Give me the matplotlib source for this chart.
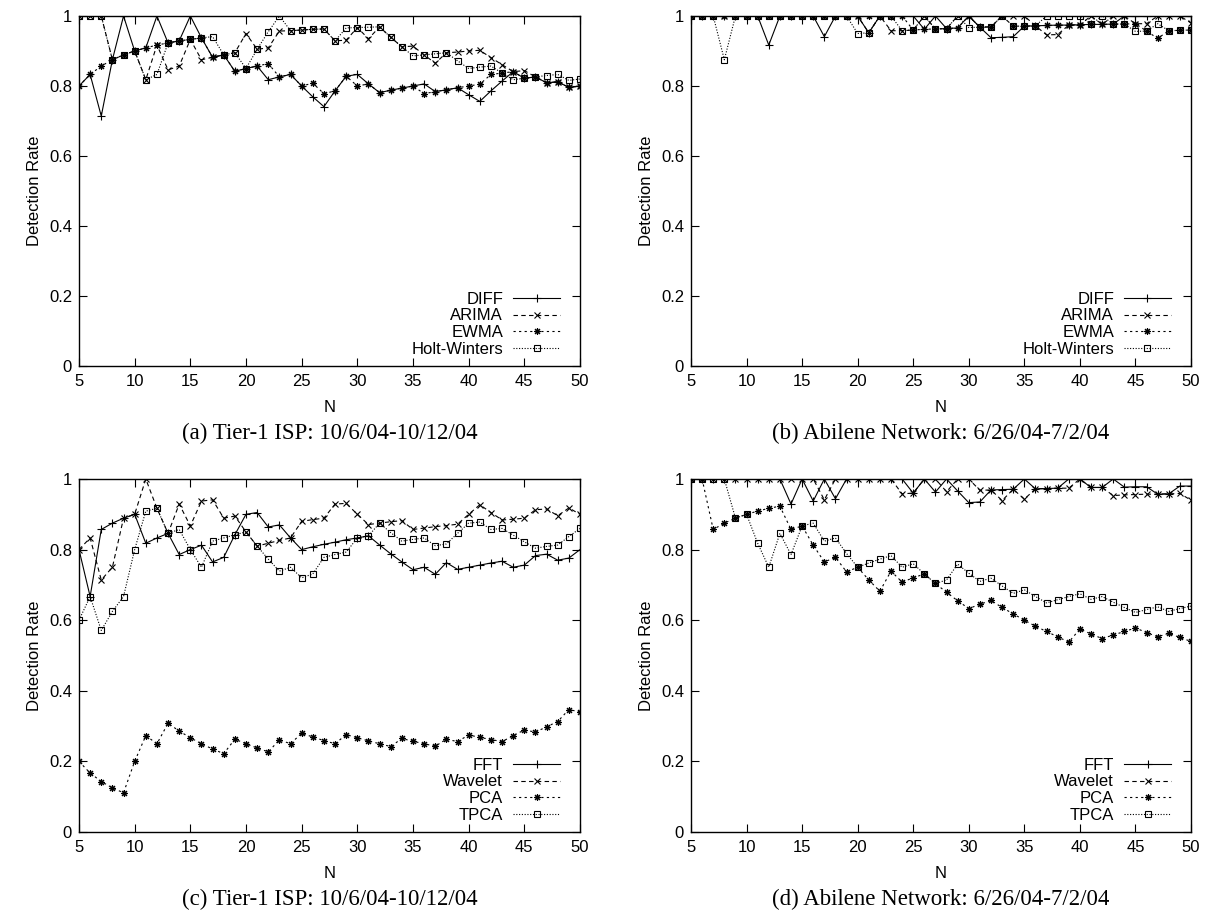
import matplotlib
matplotlib.use('Agg')
import matplotlib.pyplot as plt
from matplotlib.ticker import FuncFormatter

plt.rcParams['font.family'] = 'Liberation Sans'

N = list(range(5, 51))

# (a) Tier-1 ISP, temporal methods
diff_a = [.8, .833, .714, .875, 1.0, .9, .909, 1.0, .923, .929, 1.0, .9375, .882, .889, .842, .85,
          .857, .818, .826, .833, .8, .769, .741, .786, .828, .833, .806, .781, .788, .794, .8, .806,
          .784, .789, .795, .775, .756, .786, .814, .841, .822, .826, .809, .812, .796, .8]
arima_a = [1, 1, 1, .875, .889, .9, .818, .917, .846, .857, .933, .875, .882, .889, .895, .95,
           .905, .909, .957, .958, .96, .962, .963, .929, .931, .967, .935, .969, .939, .912, .914,
           .889, .865, .895, .897, .9, .902, .881, .861, .841, .844, .826, .809, .812, .796, .8]
ewma_a = [.8, .833, .857, .875, .889, .9, .909, .917, .923, .929, .933, .9375, .882, .889, .842, .85,
          .857, .864, .826, .833, .8, .808, .778, .786, .828, .8, .806, .781, .788, .794, .8, .778,
          .784, .789, .795, .8, .805, .833, .837, .841, .822, .826, .809, .812, .796, .8]
hw_a = [1, 1, 1, .875, .889, .9, .818, .833, .923, .929, .933, .9375, .941, .889, .895, .85, .905,
        .955, 1.0, .958, .96, .962, .963, .929, .966, .967, .968, .969, .939, .912, .886, .889, .892,
        .895, .872, .85, .854, .857, .837, .818, .822, .826, .83, .833, .816, .82]

# (b) Abilene, temporal methods
diff_b = [1, 1, 1, 1, 1, 1, 1, .917, 1, 1, 1, 1, .941, 1, 1, 1, .952, 1, 1, 1, 1, .962, 1, .964,
          .966, 1, .968, .938, .939, .941, .971, .972, .973, .974, .974, .975, .976, .976, .977, 1,
          1, 1, 1, 1, 1, 1]
arima_b = [1, 1, 1, 1, 1, 1, 1, 1, 1, 1, 1, 1, 1, 1, 1, 1, .952, 1, .958, .958, .96, 1, .963, .964,
           1, 1, .968, .969, 1, 1, 1, .972, .946, .947, .974, .975, 1, .976, 1, 1, .978, .978, 1, 1,
           1, .98]
ewma_b = [1, 1, 1, 1, 1, 1, 1, 1, 1, 1, 1, 1, 1, 1, 1, 1, 1, 1, 1, 1, .96, .962, .963, .964, .966,
          1, .968, .969, 1, .971, .971, .972, .973, .974, .974, .975, .976, .976, .977, .977, .978,
          .957, .936, .958, .959, .96]
hw_b = [1, 1, 1, .875, 1, 1, 1, 1, 1, 1, 1, 1, 1, 1, 1, .95, .952, 1, 1, .958, .96, 1, .963, .964,
        1, .967, .968, .969, 1, .971, .971, .972, 1, 1, 1, 1, .976, 1, .977, .977, .956, .957, .978,
        .958, .959, .96]

# (c) Tier-1 ISP, spatial/frequency methods
fft_c = [.8, .667, .857, .875, .889, .9, .818, .833, .846, .786, .8, .8125, .765, .778, .842, .9,
         .905, .864, .87, .833, .8, .808, .815, .821, .828, .833, .839, .813, .788, .765, .743, .75,
         .73, .763, .744, .75, .756, .762, .767, .75, .756, .783, .787, .77, .776, .8]
wavelet_c = [.8, .833, .714, .75, .889, .9, 1.0, .917, .846, .929, .867, .9375, .941, .889, .895,
             .85, .81, .818, .826, .833, .88, .885, .889, .929, .931, .9, .871, .875, .879, .882,
             .857, .861, .865, .868, .872, .9, .927, .905, .884, .886, .889, .913, .915, .896,
             .918, .9]
pca_c = [.2, .167, .143, .125, .111, .2, .273, .25, .308, .286, .267, .25, .235, .222, .263, .25,
         .238, .227, .261, .25, .28, .269, .259, .25, .276, .267, .258, .25, .242, .265, .257, .25,
         .243, .263, .256, .275, .268, .262, .256, .273, .289, .283, .298, .313, .347, .34]
tpca_c = [.6, .667, .571, .625, .667, .8, .909, .917, .846, .857, .8, .75, .824, .833, .842, .85,
          .81, .773, .739, .75, .72, .731, .778, .786, .793, .833, .839, .875, .848, .824, .829,
          .833, .811, .816, .846, .875, .878, .857, .86, .841, .822, .804, .809, .813, .837, .86]

# (d) Abilene, spatial/frequency methods
fft_d = [1, 1, 1, 1, 1, 1, 1, 1, 1, .929, 1, .9375, 1, .944, 1, 1, 1, 1, 1, 1, .96, 1, .963, 1,
         .966, .933, .935, .969, .97, .971, 1, .972, .973, .974, 1, 1, .976, .976, 1, .977, .978,
         .978, .957, .958, .98, .98]
wavelet_d = [1, 1, 1, 1, 1, 1, 1, 1, 1, 1, 1, 1, .941, 1, 1, 1, 1, 1, 1, .958, .96, 1, 1, .964, 1,
             1, .968, .969, .939, .971, .943, .972, .973, .974, .974, 1, .976, .976, .953, .955,
             .956, .957, .957, .958, .959, .94]
pca_d = [1, 1, .857, .875, .889, .9, .909, .917, .923, .857, .867, .8125, .765, .778, .737, .75,
         .714, .682, .739, .708, .72, .731, .704, .679, .655, .633, .645, .656, .636, .618, .6,
         .583, .568, .553, .538, .575, .561, .548, .558, .568, .578, .565, .553, .563, .551, .54]
tpca_d = [1, 1, 1, 1, .889, .9, .818, .75, .846, .786, .867, .875, .824, .833, .789, .75, .762,
          .773, .783, .75, .76, .731, .704, .714, .759, .733, .71, .719, .697, .676, .686, .667,
          .649, .658, .667, .675, .659, .667, .651, .636, .622, .63, .638, .625, .633, .64]

labels_top = ['DIFF', 'ARIMA', 'EWMA', 'Holt-Winters']
labels_bot = ['FFT', 'Wavelet', 'PCA', 'TPCA']
captions = ['(a) Tier-1 ISP: 10/6/04-10/12/04', '(b) Abilene Network: 6/26/04-7/2/04',
            '(c) Tier-1 ISP: 10/6/04-10/12/04', '(d) Abilene Network: 6/26/04-7/2/04']

panels = [
    ([diff_a, arima_a, ewma_a, hw_a], labels_top),
    ([diff_b, arima_b, ewma_b, hw_b], labels_top),
    ([fft_c, wavelet_c, pca_c, tpca_c], labels_bot),
    ([fft_d, wavelet_d, pca_d, tpca_d], labels_bot),
]

# gnuplot-ish line types
styles = [
    dict(ls='-', marker='+', ms=5.5, mew=0.8),
    dict(ls=(0, (4, 3)), marker='x', ms=4.5, mew=0.8),
    dict(ls=(0, (2, 3)), marker=(8, 2, 0), ms=5, mew=0.8),
    dict(ls=(0, (1, 1.5)), marker='s', ms=4, mew=0.8, mfc='none'),
]

W, H = 1206, 916
fig = plt.figure(figsize=(W / 100, H / 100), dpi=100)

# axes boxes in pixels: left, top, right, bottom
boxes = [(79, 16, 580, 366), (691, 16, 1191, 366),
         (79, 479, 580, 832), (691, 479, 1191, 832)]

fmt = FuncFormatter(lambda v, p: '%g' % v)

for i, ((series, labels), (l, t, r, b)) in enumerate(zip(panels, boxes)):
    ax = fig.add_axes([l / W, 1 - b / H, (r - l) / W, (b - t) / H])
    for s, lab, st in zip(series, labels, styles):
        ax.plot(N, s, color='black', lw=0.8, label=lab, **st)
    ax.set_xlim(5, 50)
    ax.set_ylim(0, 1)
    ax.set_xticks(range(5, 51, 5))
    ax.set_yticks([0, 0.2, 0.4, 0.6, 0.8, 1])
    ax.yaxis.set_major_formatter(fmt)
    ax.tick_params(direction='in', length=6, width=0.8, top=True, right=True, labelsize=12)
    ax.tick_params(axis='x', pad=6)
    ax.tick_params(axis='y', pad=5)
    for sp in ax.spines.values():
        sp.set_linewidth(1.0)
    ax.set_ylabel('Detection Rate', fontsize=12, labelpad=5)
    fig.text((l + r) / 2 / W, 1 - (b + 42) / H, 'N', ha='center', va='center', fontsize=12)
    ax.legend(loc='lower right', bbox_to_anchor=(1 - 11 / (r - l), 0), frameon=False,
              markerfirst=False, numpoints=1, handlelength=2.8, fontsize=12,
              labelspacing=0.1, handletextpad=0.6, borderaxespad=0.15)
    fig.text((l + r) / 2 / W, 1 - (b + 67) / H, captions[i], ha='center', va='center',
             fontsize=16.5, family='Liberation Serif')

fig.savefig('out.png', dpi=100)
